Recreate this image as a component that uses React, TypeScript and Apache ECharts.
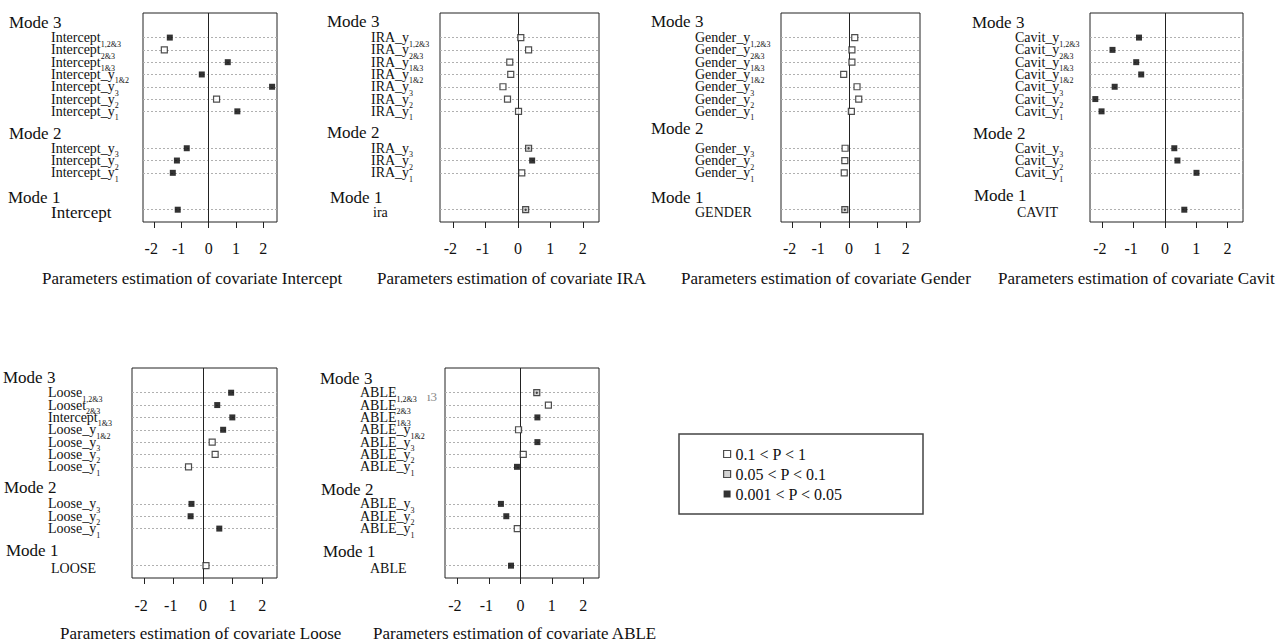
import React, { useEffect, useRef } from "react";
import * as echarts from "echarts";

const FONT = '"Liberation Serif", "Times New Roman", Times, serif';

// y positions of the rows on the value scale, top row first
// (Mode 3: 7 rows, Mode 2: 3 rows, Mode 1: 1 row)
const ROW_POS = [14, 13, 12, 11, 10, 9, 8, 5, 4, 3, 0];
const X_TICKS = [-2, -1, 0, 1, 2];

const CLASS_NAMES = ["0.1 < P < 1", "0.05 < P < 0.1", "0.001 < P < 0.05"];
// n = 0.1<P<1, m = 0.05<P<0.1, s = 0.001<P<0.05

const INTERCEPT_LABELS = [
  ["Intercept", "1,2&3"], ["Intercept", "2&3"], ["Intercept", "1&3"], ["Intercept_y", "1&2"],
  ["Intercept_y", "3"], ["Intercept_y", "2"], ["Intercept_y", "1"],
  ["Intercept_y", "3"], ["Intercept_y", "2"], ["Intercept_y", "1"], ["Intercept", ""],
];
const INTERCEPT_VALUES = [-1.42, -1.62, 0.7, -0.25, 2.32, 0.29, 1.05, -0.8, -1.16, -1.31, -1.13];
const INTERCEPT_P = ["s", "n", "s", "s", "s", "n", "s", "s", "s", "s", "s"];

const IRA_LABELS = [
  ["IRA_y", "1,2&3"], ["IRA_y", "2&3"], ["IRA_y", "1&3"], ["IRA_y", "1&2"],
  ["IRA_y", "3"], ["IRA_y", "2"], ["IRA_y", "1"],
  ["IRA_y", "3"], ["IRA_y", "2"], ["IRA_y", "1"], ["ira", ""],
];
const IRA_VALUES = [0.09, 0.33, -0.25, -0.22, -0.46, -0.32, 0.02, 0.33, 0.44, 0.12, 0.24];
const IRA_P = ["n", "n", "n", "n", "n", "n", "n", "m", "s", "n", "m"];

const GENDER_LABELS = [
  ["Gender_y", "1,2&3"], ["Gender_y", "2&3"], ["Gender_y", "1&3"], ["Gender_y", "1&2"],
  ["Gender_y", "3"], ["Gender_y", "2"], ["Gender_y", "1"],
  ["Gender_y", "3"], ["Gender_y", "2"], ["Gender_y", "1"], ["GENDER", ""],
];
const GENDER_VALUES = [0.2, 0.1, 0.1, -0.19, 0.28, 0.34, 0.08, -0.14, -0.15, -0.17, -0.15];
const GENDER_P = ["n", "n", "n", "n", "n", "n", "n", "n", "n", "n", "m"];

const CAVIT_LABELS = [
  ["Cavit_y", "1,2&3"], ["Cavit_y", "2&3"], ["Cavit_y", "1&3"], ["Cavit_y", "1&2"],
  ["Cavit_y", "3"], ["Cavit_y", "2"], ["Cavit_y", "1"],
  ["Cavit_y", "3"], ["Cavit_y", "2"], ["Cavit_y", "1"], ["CAVIT", ""],
];
const CAVIT_VALUES = [-0.83, -1.68, -0.92, -0.76, -1.61, -2.23, -2.03, 0.3, 0.4, 1.01, 0.62];
const CAVIT_P = ["s", "s", "s", "s", "s", "s", "s", "s", "s", "s", "s"];

const LOOSE_LABELS = [
  ["Loose", "1,2&3"], ["Looset", "2&3"], ["Intercept", "1&3"], ["Loose_y", "1&2"],
  ["Loose_y", "3"], ["Loose_y", "2"], ["Loose_y", "1"],
  ["Loose_y", "3"], ["Loose_y", "2"], ["Loose_y", "1"], ["LOOSE", ""],
];
const LOOSE_VALUES = [0.95, 0.48, 0.99, 0.68, 0.31, 0.41, -0.49, -0.39, -0.42, 0.55, 0.1];
const LOOSE_P = ["s", "s", "s", "s", "n", "n", "n", "s", "s", "s", "n"];

const ABLE_LABELS = [
  ["ABLE", "1,2&3"], ["ABLE", "2&3"], ["ABLE", "1&3"], ["ABLE_y", "1&2"],
  ["ABLE_y", "3"], ["ABLE_y", "2"], ["ABLE_y", "1"],
  ["ABLE_y", "3"], ["ABLE_y", "2"], ["ABLE_y", "1"], ["ABLE", ""],
];
const ABLE_VALUES = [0.52, 0.89, 0.54, -0.06, 0.54, 0.09, -0.11, -0.62, -0.45, -0.1, -0.3];
const ABLE_P = ["m", "n", "s", "n", "s", "n", "s", "s", "s", "n", "s"];

const TITLES = [
  "Parameters estimation of covariate Intercept",
  "Parameters estimation of covariate IRA",
  "Parameters estimation of covariate Gender",
  "Parameters estimation of covariate Cavit",
  "Parameters estimation of covariate Loose",
  "Parameters estimation of covariate ABLE",
];
const MODE_NAMES = ["Mode 3", "Mode 2", "Mode 1"];

// layout (positions in px)
const PANELS = [
  { labels: INTERCEPT_LABELS, values: INTERCEPT_VALUES, p: INTERCEPT_P, grid: { left: 143, top: 13, width: 134, height: 209 }, labelX: 51, indent: 0, oneSize: 17, modeX: [9, 9, 8], modeY: [22, 133, 197], titleX: 42, titleY: 278, tickMargin: 18 },
  { labels: IRA_LABELS, values: IRA_VALUES, p: IRA_P, grid: { left: 440, top: 13, width: 159, height: 209 }, labelX: 371, indent: 2, oneSize: 14, modeX: [327, 327, 330], modeY: [21, 132, 197], titleX: 377, titleY: 278, tickMargin: 18 },
  { labels: GENDER_LABELS, values: GENDER_VALUES, p: GENDER_P, grid: { left: 781, top: 13, width: 139, height: 209 }, labelX: 695, indent: 0, oneSize: 14, modeX: [651, 651, 651], modeY: [21, 128, 197], titleX: 681, titleY: 278, tickMargin: 18 },
  { labels: CAVIT_LABELS, values: CAVIT_VALUES, p: CAVIT_P, grid: { left: 1090, top: 13, width: 153, height: 209 }, labelX: 1015, indent: 2, oneSize: 14, modeX: [972, 973, 974], modeY: [22, 133, 195], titleX: 998, titleY: 278, tickMargin: 18 },
  { labels: LOOSE_LABELS, values: LOOSE_VALUES, p: LOOSE_P, grid: { left: 132, top: 368, width: 145, height: 210 }, labelX: 48, indent: 3, oneSize: 14, modeX: [3, 4, 6], modeY: [377, 487, 550], titleX: 60, titleY: 633, tickMargin: 19 },
  { labels: ABLE_LABELS, values: ABLE_VALUES, p: ABLE_P, grid: { left: 445, top: 368, width: 154, height: 210 }, labelX: 360, indent: 10, oneSize: 14, modeX: [320, 321, 323], modeY: [378, 489, 551], titleX: 373, titleY: 633, tickMargin: 19 },
];
const LEGEND_BOX = { x: 679, y: 434, width: 244, height: 80 };

const CLASS_STYLE: Record<string, any> = {
  n: { color: "#ffffff", borderColor: "#222222", borderWidth: 1.2 },
  m: { color: "#c8c8c8", borderColor: "#222222", borderWidth: 1.2 },
  s: { color: "#000000", borderColor: "#000000", borderWidth: 0 },
};
const CLASS_KEYS = ["n", "m", "s"];

function buildOption() {
  const grid: any[] = [];
  const xAxis: any[] = [];
  const yAxis: any[] = [];
  const series: any[] = [];
  const graphic: any[] = [];

  PANELS.forEach((pn, i) => {
    grid.push({ ...pn.grid, show: true, borderColor: "#222", borderWidth: 1, backgroundColor: "transparent", containLabel: false });
    xAxis.push({
      gridIndex: i,
      type: "value",
      position: "bottom",
      min: -2.4,
      max: 2.5,
      axisLine: { show: false, onZero: false },
      splitLine: { show: false },
      axisTick: { show: true, inside: false, customValues: X_TICKS, length: 6, lineStyle: { color: "#222", width: 1 } },
      axisLabel: {
        customValues: X_TICKS,
        margin: pn.tickMargin,
        formatter: (v: number) => (v < 0 ? `{n|${v}}{h|-}` : `{n|${v}}`),
        rich: {
          n: { fontSize: 16, fontFamily: FONT, color: "#111" },
          h: { fontSize: 16, fontFamily: FONT, color: "rgba(0,0,0,0)" },
        },
      },
    });
    const labels = pn.labels;
    yAxis.push({
      gridIndex: i,
      type: "value",
      position: "left",
      min: -1,
      max: 16,
      interval: 1,
      axisLine: { show: false, onZero: false },
      axisTick: { show: false },
      splitLine: { show: false },
      axisLabel: {
        show: true,
        align: "left",
        margin: pn.grid.left - pn.labelX,
        showMinLabel: true,
        showMaxLabel: true,
        formatter: (v: number) => {
          const k = ROW_POS.indexOf(Math.round(v));
          if (k < 0) return "";
          const [m, s] = labels[k];
          if (!s) return `{one|${m}}`;
          return `{m|${m}}{s|${s}}`;
        },
        rich: {
          m: { fontSize: 14, fontFamily: FONT, color: "#111", lineHeight: 14, padding: [0, 0, 9, 0], verticalAlign: "top" },
          s: { fontSize: 8, fontFamily: FONT, color: "#111", lineHeight: 8, padding: [9.5, 0, 5.5, 0], verticalAlign: "top" },
          one: { fontSize: pn.oneSize, fontFamily: FONT, color: "#111", lineHeight: pn.oneSize, padding: [6, 0, 0, pn.indent] },
        },
      },
    });

    const pts = pn.values.map((v, k) => [v, ROW_POS[k]]);
    // grid lines + zero line
    series.push({
      type: "scatter",
      xAxisIndex: i,
      yAxisIndex: i,
      data: pts,
      symbolSize: 0,
      silent: true,
      z: 1,
      markLine: {
        silent: true,
        symbol: ["none", "none"],
        label: { show: false },
        animation: false,
        data: [
          ...ROW_POS.map((r) => ({ yAxis: r, lineStyle: { color: "#b0b0b0", type: [2, 2], width: 1 } })),
          { xAxis: 0, lineStyle: { color: "#222", type: "solid", width: 1 } },
        ],
      },
    });
    CLASS_KEYS.forEach((ck, ci) => {
      series.push({
        type: "scatter",
        name: CLASS_NAMES[ci],
        xAxisIndex: i,
        yAxisIndex: i,
        symbol: "rect",
        symbolSize: 6,
        z: 5,
        itemStyle: CLASS_STYLE[ck],
        data: pts.filter((_, k) => pn.p[k] === ck),
      });
    });
    series.push({
      type: "scatter",
      name: "dot",
      xAxisIndex: i,
      yAxisIndex: i,
      symbol: "circle",
      symbolSize: 2.4,
      z: 6,
      silent: true,
      itemStyle: { color: "#222" },
      data: pts.filter((_, k) => pn.p[k] === "m"),
    });

    MODE_NAMES.forEach((mn, mi) => {
      graphic.push({
        type: "text",
        x: pn.modeX[mi],
        y: pn.modeY[mi],
        style: { text: mn, fontSize: 17, fontFamily: FONT, fill: "#111", align: "left", verticalAlign: "middle" },
      });
    });
    graphic.push({
      type: "text",
      x: pn.titleX,
      y: pn.titleY,
      style: { text: TITLES[i], fontSize: 17, fontFamily: FONT, fill: "#111", align: "left", verticalAlign: "middle" },
    });
  });

  graphic.push({
    type: "text",
    x: 427,
    y: 396,
    style: { text: "ı3", fontSize: 13, fontFamily: FONT, fill: "#8a8a8a", align: "left", verticalAlign: "middle" },
  });
  graphic.push({
    type: "rect",
    shape: { ...LEGEND_BOX },
    z: -1,
    style: { fill: "#fff", stroke: "#444", lineWidth: 1.5 },
  });

  return {
    animation: false,
    backgroundColor: "#ffffff",
    grid,
    xAxis,
    yAxis,
    series,
    graphic,
    legend: {
      orient: "vertical",
      left: 679,
      top: 434,
      padding: [12, 20, 12, 44],
      itemGap: 4,
      itemWidth: 7,
      itemHeight: 7,
      selectedMode: false,
      textStyle: { fontSize: 16, fontFamily: FONT, color: "#111" },
      data: CLASS_NAMES.map((nm, ci) => ({ name: nm, icon: "rect", itemStyle: CLASS_STYLE[CLASS_KEYS[ci]] })),
    },
  };
}

export default function App() {
  const ref = useRef<HTMLDivElement | null>(null);
  useEffect(() => {
    if (!ref.current) return;
    const chart = echarts.init(ref.current, undefined, { renderer: "svg" });
    chart.setOption(buildOption() as any);
    return () => chart.dispose();
  }, []);
  return <div ref={ref} style={{ position: "absolute", left: 0, top: 0, width: 1279, height: 642, background: "#fff" }} />;
}
